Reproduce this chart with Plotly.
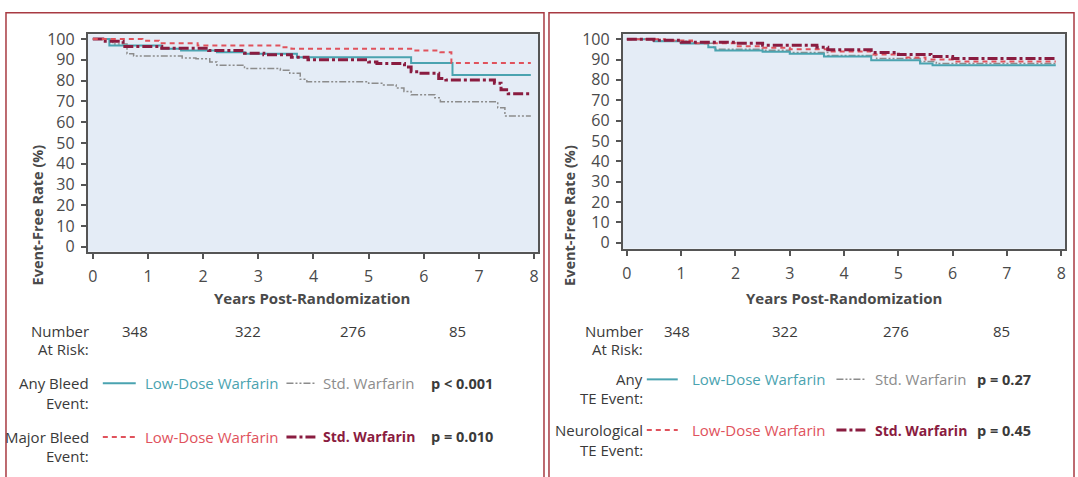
import plotly.graph_objects as go

W, H = 1078, 477

# ---------------- data ----------------
# Left panel: bleeding events
bleed_any_low_t = [0, 0.3, 1.25, 1.6, 2.25, 2.75, 3.7, 5.77, 6.52, 7.94]
bleed_any_low_v = [100, 96.9, 95.3, 94.5, 93.7, 92.9, 91.3, 88.5, 82.7, 82.7]
bleed_any_std_t = [0, 0.36, 0.62, 0.74, 1.62, 1.87, 2.12, 2.25, 2.75, 3.4, 3.57, 3.76, 3.88,
                   5.0, 5.27, 5.5, 5.64, 5.77, 6.2, 6.3, 7.34, 7.47, 7.94]
bleed_any_std_v = [100, 97.6, 92.9, 91.8, 90.9, 90.5, 89, 87.4, 85.8, 85, 83.5, 80.6, 79.5,
                   78.7, 77.9, 76.4, 74.8, 73.2, 71.7, 69.8, 66.9, 63, 63]
bleed_major_low_t = [0, 0.9, 1.2, 1.9, 3.4, 3.6, 5.77, 6.3, 6.5, 7.94]
bleed_major_low_v = [100, 99.2, 98, 96.9, 96, 95.3, 94.5, 93.7, 88.5, 88.5]
bleed_major_std_t = [0, 0.18, 0.55, 1.25, 2.1, 2.75, 3.1, 3.6, 3.9, 5.0, 5.15, 5.65, 5.77, 5.9,
                     6.27, 6.4, 7.28, 7.4, 7.53, 7.94]
bleed_major_std_v = [100, 99, 96.4, 95.6, 94.5, 93.2, 92.4, 91.3, 90, 89, 88.2, 86.6, 84.3, 83.5,
                     81, 80.3, 78.7, 75.6, 73.7, 73.7]

# Right panel: thromboembolic events
te_any_low_t = [0, 0.5, 1.0, 1.5, 1.63, 2.5, 3.0, 3.63, 4.5, 5.4, 5.63, 7.9]
te_any_low_v = [100, 99, 97.9, 96, 94.4, 93.8, 92.8, 91.5, 89.6, 88, 87.2, 87.2]
te_any_std_t = [0, 0.6, 1.1, 1.6, 2.5, 3.0, 3.7, 4.6, 5.4, 5.7, 7.9]
te_any_std_v = [100, 99, 98, 95, 94.5, 93.5, 92, 90.5, 89, 88, 88]
te_neuro_low_t = [0, 0.7, 1.2, 2.0, 2.5, 3.0, 3.7, 4.5, 5.1, 5.5, 6.0, 7.9]
te_neuro_low_v = [100, 99.3, 98, 96.5, 95.8, 95, 94, 92.5, 91, 90, 89, 89]
te_neuro_std_t = [0, 0.5, 1.0, 2.0, 2.5, 3.5, 3.7, 4.5, 5.0, 5.6, 6.0, 7.9]
te_neuro_std_v = [100, 99.5, 98.5, 98, 97, 96, 94.8, 93.5, 92.5, 91.5, 90.5, 90.5]

at_risk = ["348", "322", "276", "85"]
x_ticks = [0, 1, 2, 3, 4, 5, 6, 7, 8]
y_ticks = [0, 10, 20, 30, 40, 50, 60, 70, 80, 90, 100]

left_labels = [["Any Bleed", "Event:"], ["Major Bleed", "Event:"]]
right_labels = [["Any", "TE Event:"], ["Neurological", "TE Event:"]]
left_p = ["p < 0.001", "p = 0.010"]
right_p = ["p = 0.27", "p = 0.45"]

# ---------------- styles ----------------
TEAL = "#4aa3b0"
GRAY = "#8c8c8c"
RED = "#e0525c"
MAG = "#8a1c40"
FONT = "Open Sans"
DARK = "#3a3a3a"

s_teal = dict(color=TEAL, width=2)
s_gray = dict(color=GRAY, width=1.5, dash="7px,2px,2px,2px,2px,2px")
s_red = dict(color=RED, width=2, dash="5px,4px")
s_mag = dict(color=MAG, width=3, dash="10px,3px,3px,3px")


def px(x):
    return x / W


def py(y):
    return 1 - y / H


fig = go.Figure()

series = [
    ("x", "y", bleed_any_std_t, bleed_any_std_v, s_gray),
    ("x", "y", bleed_any_low_t, bleed_any_low_v, s_teal),
    ("x", "y", bleed_major_std_t, bleed_major_std_v, s_mag),
    ("x", "y", bleed_major_low_t, bleed_major_low_v, s_red),
    ("x2", "y2", te_any_std_t, te_any_std_v, s_gray),
    ("x2", "y2", te_any_low_t, te_any_low_v, s_teal),
    ("x2", "y2", te_neuro_low_t, te_neuro_low_v, s_red),
    ("x2", "y2", te_neuro_std_t, te_neuro_std_v, s_mag),
]
for xa, ya, t, v, st in series:
    fig.add_trace(go.Scatter(x=t, y=v, mode="lines", line=dict(shape="hv", **st),
                             xaxis=xa, yaxis=ya, showlegend=False, hoverinfo="skip"))

axis_common = dict(showline=True, linecolor="#555555", linewidth=2, mirror=True,
                   ticks="outside", ticklen=5, tickwidth=2, tickcolor="#555555",
                   showgrid=False, zeroline=False,
                   tickfont=dict(family=FONT, size=16, color="#4a4a4a"))

fig.update_layout(
    width=W, height=H,
    margin=dict(l=0, r=0, t=0, b=0),
    paper_bgcolor="white",
    plot_bgcolor="#e4ecf6",
    font=dict(family=FONT),
    xaxis=dict(domain=[px(87), px(538)], range=[-0.09, 8.07], tickvals=x_ticks,
               anchor="y", ticklabelstandoff=4, **axis_common),
    yaxis=dict(domain=[py(252), py(29)], range=[-2.3, 102.3], tickvals=y_ticks,
               anchor="x", ticklabelstandoff=3, **axis_common),
    xaxis2=dict(domain=[px(623), px(1066)], range=[-0.074, 8.07], tickvals=x_ticks,
                anchor="y2", ticklabelstandoff=4, **axis_common),
    yaxis2=dict(domain=[py(249), py(29)], range=[-2.9, 102.4], tickvals=y_ticks,
                anchor="x2", ticklabelstandoff=3, **axis_common),
)

shapes = []
annotations = []

# panel borders
BORDER = "#a83a42"
for x0, x1 in [(5, 544), (549, 1075)]:
    shapes.append(dict(type="rect", xref="paper", yref="paper", x0=px(x0), x1=px(x1),
                       y0=py(490), y1=py(7), line=dict(color=BORDER, width=1.5),
                       fillcolor="rgba(0,0,0,0)", layer="below"))


def text(x, y, s, anchor="left", size=15, color=DARK, bold=False):
    if bold:
        s = "<b>" + s + "</b>"
    annotations.append(dict(x=px(x), y=py(y), xref="paper", yref="paper", text=s,
                            showarrow=False, xanchor=anchor, yanchor="middle",
                            font=dict(family=FONT, size=size, color=color)))


def sample(x0, x1, y, st):
    d = dict(color=st["color"], width=st["width"])
    if "dash" in st:
        d["dash"] = st["dash"]
    shapes.append(dict(type="line", xref="paper", yref="paper", x0=px(x0), x1=px(x1),
                       y0=py(y), y1=py(y), line=d))


# axis titles
for cx, cy in [(26, 140), (570, 140)]:
    annotations.append(dict(x=px(cx), y=py(cy), xref="paper", yref="paper",
                            text="<b>Event-Free Rate (%)</b>", textangle=-90, showarrow=False,
                            font=dict(family=FONT, size=14.5, color="#4a4a4a")))
for cx in [312, 845]:
    text(cx, 300, "Years Post-Randomization", anchor="center", size=15, color="#4a4a4a", bold=True)

# left panel: number at risk + legend
text(90, 333, "Number", anchor="right")
text(90, 352, "At Risk:", anchor="right")
for cx, s in zip([134, 247, 353, 457], at_risk):
    text(cx, 333, s, anchor="center")

rows_left = [(387, 407, s_teal, s_gray, TEAL, GRAY, False),
             (442, 462, s_red, s_mag, RED, MAG, True)]
for (y1, y2, st1, st2, c1, c2, b2), lab, p in zip(rows_left, left_labels, left_p):
    text(90, y1, lab[0], anchor="right")
    text(90, y2, lab[1], anchor="right")
    sample(102, 135, y1, st1)
    text(142, y1, "Low-Dose Warfarin", color=c1)
    sample(286, 315, y1, st2)
    text(321, y1, "Std. Warfarin", color=c2, bold=b2, size=14 if b2 else 15)
    text(429, y1, p, bold=True, size=14.5)

# right panel: number at risk + legend
text(645, 333, "Number", anchor="right")
text(645, 352, "At Risk:", anchor="right")
for cx, s in zip([677, 785, 897, 1002], at_risk):
    text(cx, 333, s, anchor="center")

rows_right = [(383, 402, s_teal, s_gray, TEAL, GRAY, False),
              (435, 455, s_red, s_mag, RED, MAG, True)]
for (y1, y2, st1, st2, c1, c2, b2), lab, p in zip(rows_right, right_labels, right_p):
    text(645, y1, lab[0], anchor="right")
    text(645, y2, lab[1], anchor="right")
    sample(647, 678, y1, st1)
    text(690, y1, "Low-Dose Warfarin", color=c1)
    sample(837, 867, y1, st2)
    text(874, y1, "Std. Warfarin", color=c2, bold=b2, size=14 if b2 else 15)
    text(976, y1, p, bold=True, size=14.5)

fig.update_layout(shapes=shapes, annotations=annotations)
fig.write_html("out.html")
